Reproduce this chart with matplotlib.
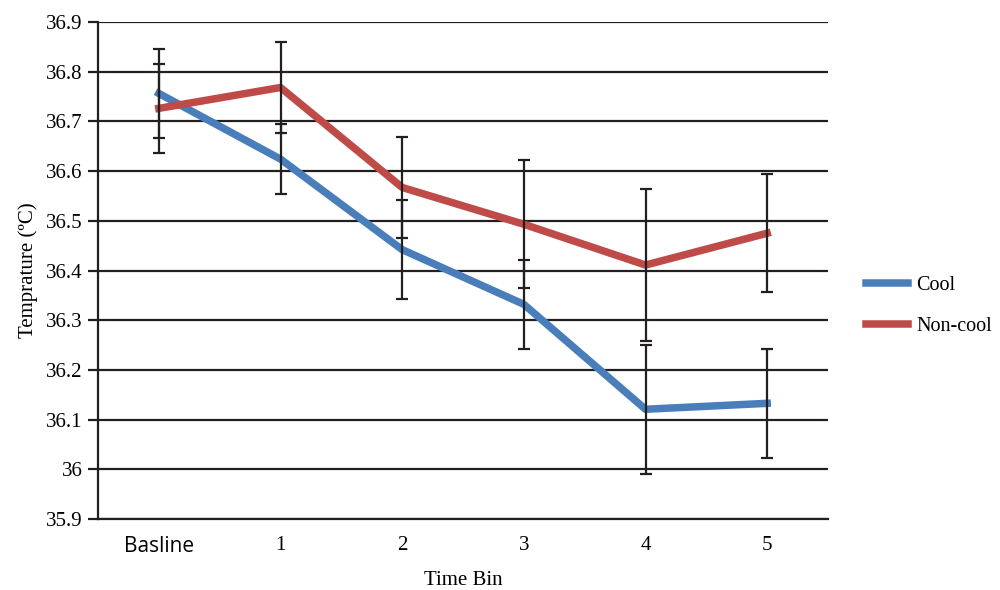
import matplotlib.pyplot as plt
import numpy as np

categories = ['Basline', '1', '2', '3', '4', '5']
cool = [36.756, 36.624, 36.442, 36.332, 36.121, 36.133]
cool_err = [0.090, 0.071, 0.099, 0.090, 0.130, 0.109]
noncool = [36.726, 36.768, 36.567, 36.493, 36.411, 36.475]
noncool_err = [0.090, 0.092, 0.101, 0.129, 0.152, 0.119]

plt.rcParams['font.family'] = ['Liberation Serif', 'DejaVu Serif']
fs = 15

fig = plt.figure(figsize=(10, 5.9), dpi=100)
ax = fig.add_axes([0.098, 0.120, 0.730, 0.843])

x = np.arange(len(categories))
ax.plot(x, cool, color='#4a7ebb', lw=5.4, label='Cool', zorder=3)
ax.plot(x, noncool, color='#be4b48', lw=5.4, label='Non-cool', zorder=3)
ax.errorbar(x, cool, yerr=cool_err, fmt='none', ecolor='#231f20', elinewidth=1.6,
            capsize=4.5, capthick=1.6, zorder=4)
ax.errorbar(x, noncool, yerr=noncool_err, fmt='none', ecolor='#231f20', elinewidth=1.6,
            capsize=4.5, capthick=1.6, zorder=4)

ax.set_xlim(-0.5, 5.5)
ax.set_ylim(35.9, 36.9)
yt = np.round(np.arange(35.9, 36.91, 0.1), 1)
ax.set_yticks(yt)
ax.set_yticklabels(['36' if v == 36.0 else f'{v:.1f}' for v in yt])
ax.set_xticks(x)
ax.set_xticklabels(categories)
# the first category label is set in a sans face in the original
ax.get_xticklabels()[0].set_family(['Open Sans', 'DejaVu Sans'])
ax.get_xticklabels()[0].set_fontsize(12.5)
ax.grid(axis='y', color='#231f20', lw=1.6)
ax.set_axisbelow(True)
for s in ['top', 'right']:
    ax.spines[s].set_visible(False)
ax.spines['left'].set_color('#231f20')
ax.spines['bottom'].set_color('#231f20')
ax.spines['left'].set_linewidth(1.6)
ax.spines['bottom'].set_linewidth(1.6)
ax.tick_params(axis='y', length=7, width=1.6, color='#231f20', labelsize=fs, pad=4)
ax.tick_params(axis='x', length=0, labelsize=fs, pad=12)

ax.set_xlabel('Time Bin', fontsize=fs, labelpad=10)
ax.set_ylabel('Temprature (ºC)', fontsize=fs, labelpad=6)

fig.legend(loc='center left', bbox_to_anchor=(0.866, 0.481), frameon=False, borderpad=0,
           borderaxespad=0, fontsize=14.5, handlelength=2.1, labelspacing=1.1,
           handletextpad=0.4)

fig.savefig('out.png', dpi=100)
